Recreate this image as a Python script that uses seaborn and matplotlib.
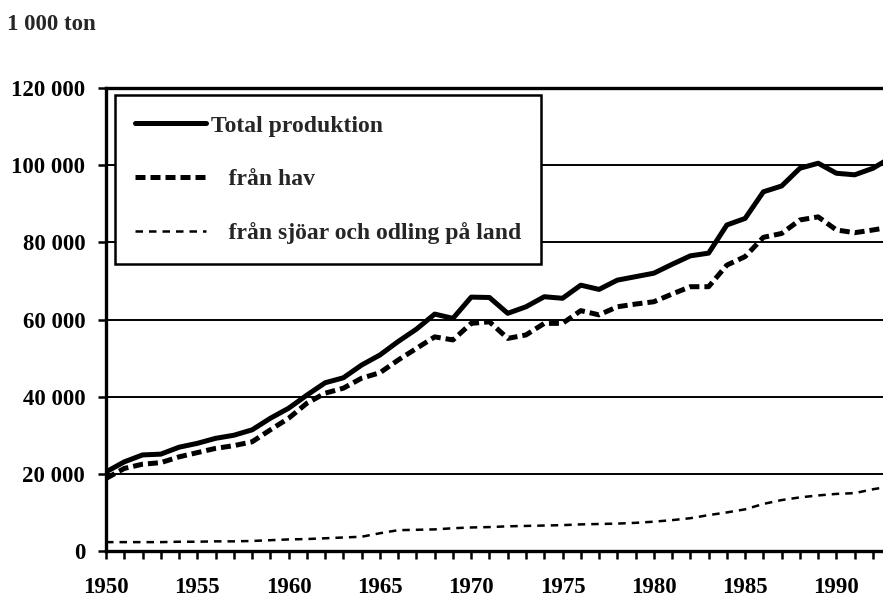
import numpy as np
import pandas as pd
import matplotlib
matplotlib.use("Agg")
import matplotlib.pyplot as plt
from matplotlib.ticker import MultipleLocator, FuncFormatter
import seaborn as sns

# Data (1 000 ton)
years = list(range(1950, 1994))
total = [20500, 23100, 24900, 25100, 26900, 27900, 29200, 30000, 31400, 34400,
         37000, 40400, 43600, 44900, 48200, 50800, 54300, 57500, 61400, 60300,
         65800, 65700, 61600, 63300, 65900, 65500, 68900, 67800, 70200, 71100,
         72000, 74300, 76500, 77200, 84500, 86200, 93100, 94600, 99200, 100500,
         97900, 97500, 99200, 102000]
hav = [18800, 21400, 22500, 22900, 24400, 25500, 26600, 27300, 28300, 31400,
       34400, 38300, 40900, 42200, 44800, 46200, 49500, 52500, 55500, 54700,
       59000, 59400, 55100, 56000, 59000, 59000, 62300, 61200, 63300, 64000,
       64600, 66600, 68500, 68500, 74100, 76300, 81300, 82300, 85800, 86600,
       83200, 82500, 83200, 84000]
sjoar = [2300, 2300, 2300, 2300, 2400, 2400, 2500, 2500, 2600, 2800,
         3000, 3100, 3300, 3500, 3700, 4600, 5400, 5500, 5600, 5900,
         6100, 6200, 6400, 6500, 6600, 6700, 6900, 7000, 7100, 7300,
         7600, 8000, 8500, 9300, 10000, 10800, 12200, 13200, 13900, 14400,
         14800, 15000, 16000, 16800]

labels = ["Total produktion", "   från hav", "   från sjöar och odling på land"]

df = pd.DataFrame({"year": years, "total": total, "hav": hav, "sjoar": sjoar})

sns.set_style("white")
plt.rcParams["font.family"] = ["Liberation Serif", "DejaVu Serif"]
plt.rcParams["font.weight"] = "bold"
plt.rcParams["xtick.bottom"] = True
plt.rcParams["ytick.left"] = True
plt.rcParams["xtick.color"] = "black"
plt.rcParams["ytick.color"] = "black"

fig = plt.figure(figsize=(8.83, 5.97), dpi=100)
ax = fig.add_axes([106 / 883, 1 - 551 / 597, 1 - 106 / 883, (551 - 88) / 597])

# gridlines
for v in range(20000, 120000, 20000):
    ax.axhline(v, color="black", lw=1.4, zorder=1)

sns.lineplot(data=df, x="year", y="sjoar", ax=ax, color="black", lw=1.8,
             linestyle=(0, (3.0, 2.4)), label=labels[2], zorder=3)
sns.lineplot(data=df, x="year", y="hav", ax=ax, color="black", lw=3.6,
             linestyle=(0, (2.0, 1.0)), label=labels[1], zorder=3)
sns.lineplot(data=df, x="year", y="total", ax=ax, color="black", lw=3.6,
             solid_capstyle="round", solid_joinstyle="round",
             label=labels[0], zorder=4)

ax.set_xlim(1950, 1992.55)
ax.set_ylim(0, 120000)
ax.xaxis.set_major_locator(MultipleLocator(5))
ax.xaxis.set_minor_locator(MultipleLocator(1))
ax.yaxis.set_major_locator(MultipleLocator(20000))
ax.yaxis.set_major_formatter(FuncFormatter(lambda v, p: f"{int(v):,}".replace(",", " ")))
ax.set_xlabel("")
ax.set_ylabel("")

ax.tick_params(axis="x", which="both", direction="out", length=5.5, width=1.8,
               color="black", bottom=True, pad=13.5, labelsize=16.5)
ax.tick_params(axis="y", which="major", direction="out", length=6, width=1.8,
               color="black", left=True, pad=9, labelsize=16.5)
for lab in ax.get_xticklabels() + ax.get_yticklabels():
    lab.set_fontweight("bold")

for side in ["left", "bottom", "top"]:
    ax.spines[side].set_color("black")
    ax.spines[side].set_linewidth(2.4)
ax.spines["right"].set_visible(False)

# legend in reference order
h, l = ax.get_legend_handles_labels()
order = [l.index(x) for x in labels]
leg = ax.legend([h[i] for i in order], [l[i] for i in order],
                loc="upper left", bbox_to_anchor=(0.0116, 0.985),
                borderaxespad=0, fancybox=False, frameon=True,
                edgecolor="black", framealpha=1,
                handlelength=3.0, handletextpad=0.2, labelspacing=1.35,
                borderpad=0.85, prop={"weight": "bold", "size": 17})
leg.get_frame().set_linewidth(1.8)

fig.text(7 / 883, 1 - 30 / 597, "1 000 ton", fontsize=16.5, fontweight="bold",
         ha="left", va="baseline")

fig.savefig("out.png", dpi=100)
